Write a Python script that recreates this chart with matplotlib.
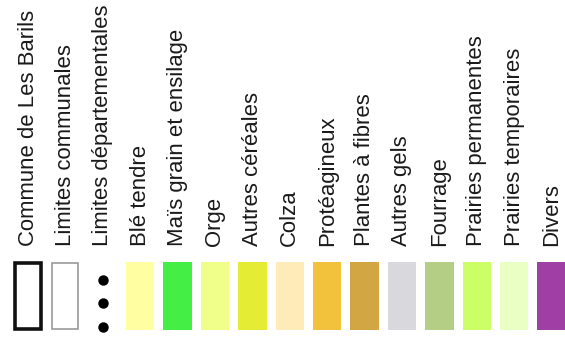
import matplotlib.pyplot as plt
from matplotlib.patches import Rectangle

plt.rcParams['font.family'] = ['Liberation Sans', 'DejaVu Sans']

# legende : libelles, type de symbole et couleur
labels = ["Commune de Les Barils", "Limites communales", "Limites départementales",
          "Blé tendre", "Maïs grain et ensilage", "Orge", "Autres céréales", "Colza",
          "Protéagineux", "Plantes à fibres", "Autres gels", "Fourrage",
          "Prairies permanentes", "Prairies temporaires", "Divers"]
kinds = ["commune", "limite", "dept"] + ["culture"] * 12
colors = [None, None, None,
          "#FFFFA2", "#44EE44", "#EFFF8A", "#E4EC34", "#FFEBB8",
          "#F2C23C", "#D2A642", "#D9D9DD", "#B4CE86",
          "#CCFF66", "#EAFFC4", "#A03FA3"]

fig = plt.figure(figsize=(5.65, 3.38), dpi=100)
ax = fig.add_axes([0, 0, 1, 1])
ax.set_xlim(-0.749, 14.36)
ax.set_ylim(338, 0)
ax.axis('off')

w = 0.76
for i, (lab, kind, col) in enumerate(zip(labels, kinds, colors)):
    ax.text(i, 246, lab, rotation=90, ha='center', va='bottom',
            fontsize=15.9, color='#1a1a1a')
    if kind == "commune":
        ax.add_patch(Rectangle((i - w / 2 + 0.03, 263), w - 0.06, 66,
                               facecolor='white', edgecolor='#111111', linewidth=2.6))
    elif kind == "limite":
        ax.add_patch(Rectangle((i - w / 2 + 0.03, 263), w - 0.06, 66,
                               facecolor='white', edgecolor='#9a9a9a', linewidth=1.2))
    elif kind == "dept":
        ax.plot([i, i, i], [280, 303, 327], 'o', color='black', markersize=6.5)
    else:
        ax.add_patch(Rectangle((i - w / 2, 262), w, 68,
                               facecolor=col, edgecolor='none'))

fig.savefig("out.png", dpi=100, facecolor='white')
